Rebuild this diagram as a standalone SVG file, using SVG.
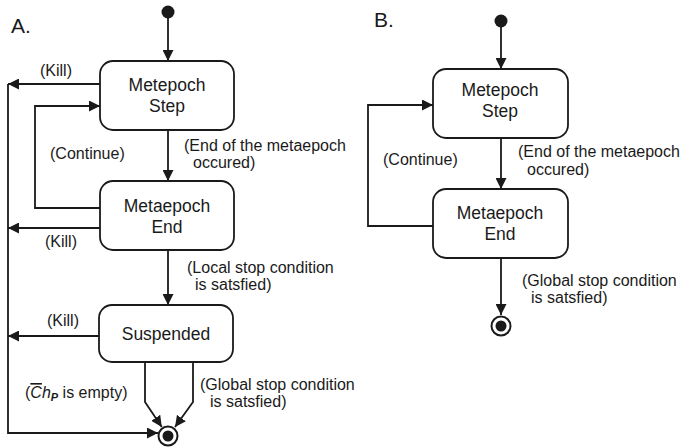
<svg xmlns="http://www.w3.org/2000/svg" width="687" height="447" viewBox="0 0 687 447">
<style>
.box{fill:#fff;stroke:#1a1a1a;stroke-width:1.8}
.ln{fill:none;stroke:#1a1a1a;stroke-width:1.8}
.nt{font-family:"Liberation Sans",Arial,sans-serif;font-size:17.5px;fill:#1a1a1a;text-anchor:middle}
.lb{font-family:"Liberation Sans",Arial,sans-serif;font-size:16px;fill:#1a1a1a}
.ttl{font-family:"Liberation Sans",Arial,sans-serif;font-size:21px;fill:#1a1a1a}
</style>
<defs>
<marker id="ah" markerUnits="userSpaceOnUse" markerWidth="11" markerHeight="11" refX="11" refY="5.5" orient="auto">
<path d="M0,0 L11,5.5 L0,11 z" fill="#1a1a1a"/>
</marker>
</defs>
<text class="ttl" x="11" y="33">A.</text>
<text class="ttl" x="374" y="27">B.</text>
<g id="connectors">
<path class="ln" d="M168,12 L168,61" marker-end="url(#ah)"/>
<path class="ln" d="M100,84 L8,84" marker-end="url(#ah)"/>
<path class="ln" d="M100,208 L35,208 L35,106 L100,106" marker-end="url(#ah)"/>
<path class="ln" d="M168,130 L168,181" marker-end="url(#ah)"/>
<path class="ln" d="M100,228 L8,228" marker-end="url(#ah)"/>
<path class="ln" d="M168,250 L168,305" marker-end="url(#ah)"/>
<path class="ln" d="M99,336 L8,336" marker-end="url(#ah)"/>
<path class="ln" d="M8,84 L8,433 L158,433" marker-end="url(#ah)"/>
<path class="ln" d="M145,362 L145,402 L161.8,426.9" marker-end="url(#ah)"/>
<path class="ln" d="M193,362 L193,402 L175,427" marker-end="url(#ah)"/>
<path class="ln" d="M501,21 L501,69" marker-end="url(#ah)"/>
<path class="ln" d="M433,226 L368,226 L368,105 L433,105" marker-end="url(#ah)"/>
<path class="ln" d="M501,138 L501,189" marker-end="url(#ah)"/>
<path class="ln" d="M501,258 L501,315" marker-end="url(#ah)"/>
<text class="lb" x="40" y="76">(Kill)</text>
<text class="lb" x="50" y="159">(Continue)</text>
<text class="lb" x="184" y="151">(End of the metaepoch</text>
<text class="lb" x="193" y="168">occured)</text>
<text class="lb" x="45" y="247">(Kill)</text>
<text class="lb" x="187" y="273">(Local stop condition</text>
<text class="lb" x="195" y="290">is satsfied)</text>
<text class="lb" x="47" y="326">(Kill)</text>
<text class="lb" x="25" y="398">(<tspan font-style="italic" text-decoration="overline">C</tspan><tspan font-style="italic">h</tspan><tspan font-style="italic" font-weight="bold" font-size="11" dy="3">P</tspan><tspan dy="-3"> is empty)</tspan></text>
<text class="lb" x="200" y="390">(Global stop condition</text>
<text class="lb" x="210" y="407">is satsfied)</text>
<text class="lb" x="383" y="165">(Continue)</text>
<text class="lb" x="518" y="157">(End of the metaepoch</text>
<text class="lb" x="527" y="175">occured)</text>
<text class="lb" x="522" y="286">(Global stop condition</text>
<text class="lb" x="531" y="303">is satsfied)</text>
</g>
<g id="initA"><circle cx="168" cy="12" r="6.5" fill="#1a1a1a"/></g>
<g id="stepA"><rect class="box" x="100" y="61" width="134" height="69" rx="13"/><text class="nt" x="167" y="91">Metepoch</text><text class="nt" x="167" y="112">Step</text></g>
<g id="endA"><rect class="box" x="100" y="181" width="134" height="69" rx="13"/><text class="nt" x="167" y="212">Metaepoch</text><text class="nt" x="167" y="233">End</text></g>
<g id="suspA"><rect class="box" x="99" y="305" width="134" height="57" rx="13"/><text class="nt" x="166" y="340">Suspended</text></g>
<g id="finalA"><circle cx="168" cy="436" r="9.5" fill="#fff" stroke="#1a1a1a" stroke-width="2"/><circle cx="168" cy="436" r="5.5" fill="#1a1a1a"/></g>
<g id="initB"><circle cx="501" cy="21" r="6.5" fill="#1a1a1a"/></g>
<g id="stepB"><rect class="box" x="433" y="69" width="135" height="69" rx="13"/><text class="nt" x="500" y="96">Metepoch</text><text class="nt" x="500" y="117">Step</text></g>
<g id="endB"><rect class="box" x="433" y="189" width="135" height="69" rx="13"/><text class="nt" x="500" y="219">Metaepoch</text><text class="nt" x="500" y="240">End</text></g>
<g id="finalB"><circle cx="501" cy="326" r="9.5" fill="#fff" stroke="#1a1a1a" stroke-width="2"/><circle cx="501" cy="326" r="5.5" fill="#1a1a1a"/></g>
</svg>
